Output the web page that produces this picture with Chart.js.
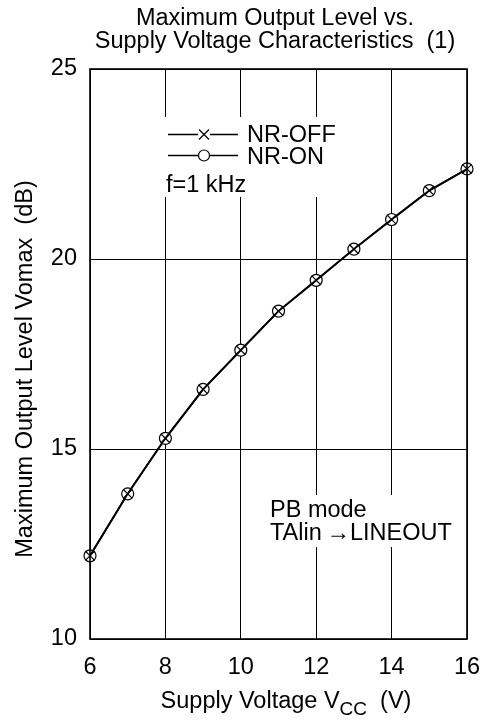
<!DOCTYPE html>
<html>
<head>
<meta charset="utf-8">
<script src="https://cdn.jsdelivr.net/npm/chart.js@4"></script>
<style>
html,body{margin:0;padding:0;background:#fff;}
#wrap{width:481px;height:724px;position:relative;}
</style>
</head>
<body>
<div id="wrap"><canvas id="c" width="481" height="724"></canvas></div>
<script>
const supplyVoltage = [6, 7, 8, 9, 10, 11, 12, 13, 14, 15, 16];
const nrOff = [12.19, 13.82, 15.28, 16.57, 17.60, 18.63, 19.44, 20.26, 21.04, 21.80, 22.37];
const nrOn  = [12.19, 13.82, 15.28, 16.57, 17.60, 18.63, 19.44, 20.26, 21.04, 21.80, 22.37];
const xTicks = [6, 8, 10, 12, 14, 16];
const yTicks = [10, 15, 20, 25];
const titleLines = ["Maximum Output Level vs.", "Supply Voltage Characteristics  (1)"];
const yTitle = "Maximum Output Level Vomax  (dB)";
const legendLabels = ["NR-OFF", "NR-ON"];
const noteFreq = "f=1 kHz";
const noteMode = ["PB mode", "TAlin\u2009\u2192LINEOUT"];

const FONT = "'Liberation Sans', Arial, sans-serif";
const FS = 23.5;

const decor = {
  id: 'decor',
  beforeDatasetsDraw(chart) {
    const ctx = chart.ctx;
    ctx.save();
    ctx.fillStyle = '#fff';
    ctx.fillRect(162, 117, 178, 80);
    ctx.fillRect(265, 495, 192, 52);
    ctx.restore();
  },
  afterDraw(chart) {
    const ctx = chart.ctx;
    const a = chart.chartArea;
    ctx.save();
    ctx.strokeStyle = '#000';
    ctx.lineWidth = 1.6;
    ctx.strokeRect(a.left, a.top, a.right - a.left, a.bottom - a.top);
    ctx.fillStyle = '#000';
    ctx.font = FS + "px " + FONT;
    ctx.textAlign = 'center';
    ctx.textBaseline = 'alphabetic';
    ctx.fillText(titleLines[0], 275, 25);
    ctx.fillText(titleLines[1], 275, 48);
    ctx.save();
    ctx.translate(32, 369);
    ctx.rotate(-Math.PI / 2);
    ctx.fillText(yTitle, 0, 0);
    ctx.restore();
    ctx.textAlign = 'left';
    const p1 = "Supply Voltage V", sub = "CC", p2 = "  (V)";
    ctx.font = FS + "px " + FONT;
    const w1 = ctx.measureText(p1).width;
    const w3 = ctx.measureText(p2).width;
    ctx.font = "19px " + FONT;
    const w2 = ctx.measureText(sub).width;
    const total = w1 + w2 + w3;
    let x = 286 - total / 2;
    ctx.font = FS + "px " + FONT;
    ctx.fillText(p1, x, 708);
    ctx.font = "19px " + FONT;
    ctx.fillText(sub, x + w1, 715);
    ctx.font = FS + "px " + FONT;
    ctx.fillText(p2, x + w1 + w2, 708);
    // legend
    ctx.lineWidth = 1.5;
    ctx.beginPath();
    ctx.moveTo(168, 134.5); ctx.lineTo(238, 134.5);
    ctx.moveTo(168, 155.5); ctx.lineTo(238, 155.5);
    ctx.stroke();
    ctx.lineWidth = 1.2;
    ctx.fillStyle = '#fff';
    ctx.fillRect(198, 128, 12, 12);
    ctx.beginPath();
    ctx.moveTo(199, 129.5); ctx.lineTo(209, 139.5);
    ctx.moveTo(209, 129.5); ctx.lineTo(199, 139.5);
    ctx.stroke();
    ctx.beginPath();
    ctx.arc(204, 155.5, 5.5, 0, Math.PI * 2);
    ctx.fill(); ctx.stroke();
    ctx.fillStyle = '#000';
    ctx.font = FS + "px " + FONT;
    ctx.fillText(legendLabels[0], 247, 142);
    ctx.fillText(legendLabels[1], 247, 164);
    ctx.fillText(noteFreq, 166, 192);
    ctx.fillText(noteMode[0], 270, 517);
    ctx.fillText(noteMode[1], 270, 540);
    ctx.restore();
  }
};

new Chart(document.getElementById('c'), {
  type: 'line',
  data: {
    datasets: [
      {
        label: legendLabels[0],
        data: supplyVoltage.map((v, i) => ({x: v, y: nrOff[i]})),
        borderColor: '#000', borderWidth: 1.8,
        pointStyle: 'crossRot', pointRadius: 6.5, pointBorderWidth: 1.2,
        pointBorderColor: '#000', pointBackgroundColor: 'rgba(0,0,0,0)',
        fill: false, tension: 0, clip: false
      },
      {
        label: legendLabels[1],
        data: supplyVoltage.map((v, i) => ({x: v, y: nrOn[i]})),
        borderColor: '#000', borderWidth: 1.8,
        pointStyle: 'circle', pointRadius: 6, pointBorderWidth: 1.2,
        pointBorderColor: '#000', pointBackgroundColor: '#fff',
        fill: false, tension: 0, clip: false
      }
    ]
  },
  options: {
    responsive: false,
    animation: false,
    devicePixelRatio: 1,
    layout: { padding: { left: 0, right: 14, top: 69, bottom: 0 } },
    plugins: { legend: { display: false }, title: { display: false }, tooltip: { enabled: false } },
    scales: {
      x: {
        type: 'linear', min: 6, max: 16,
        afterBuildTicks(s) { s.ticks = xTicks.map(v => ({value: v})); },
        afterFit(s) { s.height = 85; s.paddingLeft = 0; s.paddingRight = 0; },
        grid: { color: '#000', lineWidth: 1, drawTicks: false },
        border: { display: false },
        ticks: { color: '#000', font: { family: FONT, size: FS }, padding: 14, maxRotation: 0 }
      },
      y: {
        type: 'linear', min: 10, max: 25,
        afterBuildTicks(s) { s.ticks = yTicks.map(v => ({value: v})); },
        afterFit(s) { s.width = 90; s.paddingTop = 0; s.paddingBottom = 0; },
        grid: { color: '#000', lineWidth: 1, drawTicks: false },
        border: { display: false },
        ticks: { color: '#000', font: { family: FONT, size: FS }, padding: 13 }
      }
    }
  },
  plugins: [decor]
});
</script>
</body>
</html>
